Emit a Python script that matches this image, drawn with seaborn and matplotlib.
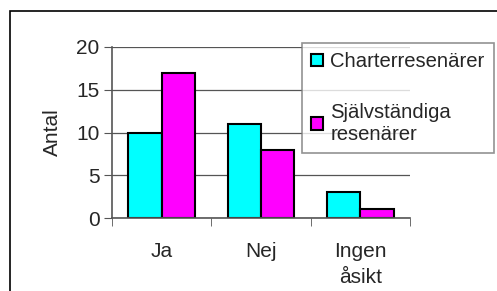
import numpy as np
import pandas as pd
import matplotlib
matplotlib.use("Agg")
import matplotlib.pyplot as plt
from matplotlib.patches import Patch, Rectangle
import seaborn as sns

categories = ["Ja", "Nej", "Ingen\nåsikt"]
charter = [10, 11, 3]
sjalv = [17, 8, 1]
series_names = ["Charterresenärer", "Självständiga\nresenärer"]
colors = ["#00FFFF", "#FF00FF"]

df = pd.DataFrame({
    "kategori": categories * 2,
    "antal": charter + sjalv,
    "grupp": [series_names[0]] * 3 + [series_names[1]] * 3,
})

sns.set_style("white")
plt.rcParams["font.family"] = ["Liberation Sans", "DejaVu Sans"]
fs = 15

fig = plt.figure(figsize=(4.97, 2.91), dpi=100)
ax = fig.add_axes([112/497, 1 - 218/291, 298/497, 171/291])

sns.barplot(data=df, x="kategori", y="antal", hue="grupp", palette=colors,
            width=0.67, edgecolor="black", linewidth=1.5, ax=ax, legend=False,
            saturation=1)

ax.set_ylim(0, 20)
ax.set_xlim(-0.5, 2.5)
ax.set_yticks([0, 5, 10, 15, 20])
ax.yaxis.grid(True, color="#555555", linewidth=0.9)
ax.set_axisbelow(True)
for s in ["top", "right"]:
    ax.spines[s].set_visible(False)
for s in ["left", "bottom"]:
    ax.spines[s].set_color("#555555")
    ax.spines[s].set_linewidth(1.2)

ax.tick_params(axis="y", length=6, color="#555555", labelsize=fs, pad=3, left=True)
ax.set_xticks(range(len(categories)))
ax.set_xticklabels(categories, linespacing=1.5)
ax.tick_params(axis="x", which="major", length=0, labelsize=fs, pad=17)
ax.set_xticks([-0.5, 0.5, 1.5, 2.5], minor=True)
ax.tick_params(axis="x", which="minor", length=6, color="#555555", bottom=True)
ax.set_xlabel("")
ax.set_ylabel("Antal", fontsize=fs, labelpad=10)

handles = [Patch(facecolor=c, edgecolor="black", linewidth=1.5) for c in colors]
leg = fig.legend(handles, series_names, loc="upper left",
                 bbox_to_anchor=(302/497, 1 - 43/291), fontsize=14.6,
                 frameon=True, fancybox=False, edgecolor="#777777",
                 handlelength=0.6, handleheight=0.6, handletextpad=0.35,
                 labelspacing=1.55, borderpad=0.45, borderaxespad=0)
leg.get_frame().set_linewidth(1.2)
for t in leg.get_texts():
    t.set_linespacing(1.2)

fig.patches.append(Rectangle((10/497, -0.1), 1.2, 1 - 11/291 + 0.1,
                             transform=fig.transFigure, fill=False,
                             edgecolor="black", linewidth=1.2))

fig.savefig("out.png", dpi=100)
